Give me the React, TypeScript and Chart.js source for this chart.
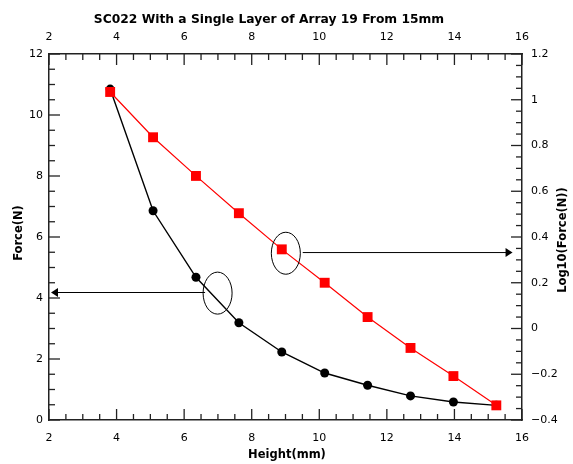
import React, { useEffect, useRef } from 'react';
import { Chart, registerables } from 'chart.js';

Chart.register(...registerables);

const chartTitle = 'SC022 With a Single Layer of Array 19 From 15mm';
const xTitle = 'Height(mm)';
const yTitle = 'Force(N)';
const y2Title = 'Log10(Force(N))';

const heights = [3.81, 5.08, 6.35, 7.62, 8.89, 10.16, 11.43, 12.7, 13.97, 15.24];
const forceN = [10.85, 6.86, 4.68, 3.19, 2.23, 1.54, 1.14, 0.79, 0.59, 0.48];
const logForce = [1.034, 0.836, 0.667, 0.504, 0.346, 0.2, 0.05, -0.085, -0.208, -0.336];

const xRange = [2, 16];
const yRange = [0, 12];
const y2Range = [-0.4, 1.2];
const xStep = 2;
const yStep = 2;
const y2Step = 0.2;

// annotation anchors (data coordinates)
const leftEllipse = { x: 6.99, y: 4.16 };
const leftArrow = { from: 6.62, to: 2.06, y: 4.18 };
const rightEllipse = { x: 9.01, y2: 0.329 };
const rightArrow = { from: 9.51, to: 15.72, y2: 0.332 };

const FONT = '"DejaVu Sans", Verdana, sans-serif';

const fmt = (v: number) => {
  const n = Math.round(v * 100) / 100;
  return n < 0 ? '\u2212' + Math.abs(n) : String(n);
};

const decorPlugin = {
  id: 'decor',
  afterDraw(chart: any) {
    const ctx = chart.ctx;
    const { x, x2, y, y2 } = chart.scales;
    const area = chart.chartArea;
    ctx.save();
    // inward ticks
    ctx.strokeStyle = '#222';
    ctx.lineWidth = 1.3;
    const drawTicks = (scale: any, min: number, max: number, step: number, side: string) => {
      const minor = step / 4;
      const n = Math.round((max - min) / minor);
      for (let i = 0; i <= n; i++) {
        const v = min + i * minor;
        const len = i % 4 === 0 ? 11 : 6;
        const p = scale.getPixelForValue(v);
        ctx.beginPath();
        if (side === 'bottom') { ctx.moveTo(p, area.bottom); ctx.lineTo(p, area.bottom - len); }
        if (side === 'top') { ctx.moveTo(p, area.top); ctx.lineTo(p, area.top + len); }
        if (side === 'left') { ctx.moveTo(area.left, p); ctx.lineTo(area.left + len, p); }
        if (side === 'right') { ctx.moveTo(area.right, p); ctx.lineTo(area.right - len, p); }
        ctx.stroke();
      }
    };
    drawTicks(x, xRange[0], xRange[1], xStep, 'bottom');
    drawTicks(x2, xRange[0], xRange[1], xStep, 'top');
    drawTicks(y, yRange[0], yRange[1], yStep, 'left');
    drawTicks(y2, y2Range[0], y2Range[1], y2Step, 'right');

    // ellipses and arrows
    ctx.strokeStyle = '#000';
    ctx.fillStyle = '#000';
    ctx.lineWidth = 1;
    const ellipse = (cx: number, cy: number) => {
      ctx.beginPath();
      ctx.ellipse(cx, cy, 14.5, 21, 0, 0, Math.PI * 2);
      ctx.stroke();
    };
    const arrow = (x0: number, x1: number, yy: number) => {
      const dir = Math.sign(x1 - x0);
      ctx.beginPath();
      ctx.moveTo(x0, yy);
      ctx.lineTo(x1 - dir * 5, yy);
      ctx.stroke();
      ctx.beginPath();
      ctx.moveTo(x1, yy);
      ctx.lineTo(x1 - dir * 7, yy - 4.5);
      ctx.lineTo(x1 - dir * 7, yy + 4.5);
      ctx.closePath();
      ctx.fill();
    };
    ellipse(x.getPixelForValue(leftEllipse.x), y.getPixelForValue(leftEllipse.y));
    arrow(x.getPixelForValue(leftArrow.from), x.getPixelForValue(leftArrow.to), y.getPixelForValue(leftArrow.y));
    ellipse(x.getPixelForValue(rightEllipse.x), y2.getPixelForValue(rightEllipse.y2));
    arrow(x.getPixelForValue(rightArrow.from), x.getPixelForValue(rightArrow.to), y2.getPixelForValue(rightArrow.y2));

    // titles
    ctx.fillStyle = '#000';
    ctx.textAlign = 'center';
    ctx.textBaseline = 'alphabetic';
    ctx.font = 'bold 12.3px ' + FONT;
    ctx.fillText(chartTitle, 269, 23);
    ctx.font = 'bold 11.5px ' + FONT;
    ctx.fillText(xTitle, 287, 458);
    ctx.textBaseline = 'middle';
    ctx.save();
    ctx.translate(19, 233);
    ctx.rotate(-Math.PI / 2);
    ctx.fillText(yTitle, 0, 0);
    ctx.restore();
    ctx.save();
    ctx.translate(563, 240);
    ctx.rotate(-Math.PI / 2);
    ctx.fillText(y2Title, 0, 0);
    ctx.restore();
    ctx.restore();
  },
};

export default function App() {
  const ref = useRef<HTMLCanvasElement>(null);
  useEffect(() => {
    if (!ref.current) return;
    const tickFont = { family: FONT, size: 11 };
    const border = { display: true, color: '#222', width: 1.5 };
    const grid = { display: false, drawTicks: false };
    const chart = new Chart(ref.current, {
      type: 'line',
      data: {
        datasets: [
          {
            label: 'Log10(Force)',
            data: heights.map((h, i) => ({ x: h, y: logForce[i] })),
            yAxisID: 'y2',
            xAxisID: 'x',
            borderColor: '#ff0000',
            backgroundColor: '#ff0000',
            borderWidth: 1.2,
            pointStyle: 'rect',
            pointRadius: 7,
            pointBorderWidth: 0,
            order: 0,
            clip: false,
          },
          {
            label: 'Force',
            data: heights.map((h, i) => ({ x: h, y: forceN[i] })),
            yAxisID: 'y',
            xAxisID: 'x',
            borderColor: '#000',
            backgroundColor: '#000',
            borderWidth: 1.4,
            pointStyle: 'circle',
            pointRadius: 4.5,
            pointBorderWidth: 0,
            order: 1,
            clip: false,
          },
        ],
      },
      options: {
        animation: false,
        responsive: false,
        maintainAspectRatio: false,
        layout: { padding: 0 },
        plugins: { legend: { display: false }, tooltip: { enabled: false }, title: { display: false } },
        scales: {
          x: {
            type: 'linear', position: 'bottom', min: xRange[0], max: xRange[1],
            ticks: { stepSize: xStep, font: tickFont, color: '#000', padding: 12 },
            grid, border,
            afterFit: (s: any) => { s.height = 44; },
          },
          x2: {
            type: 'linear', position: 'top', min: xRange[0], max: xRange[1],
            ticks: { stepSize: xStep, font: tickFont, color: '#000', padding: 10 },
            grid, border,
            afterFit: (s: any) => { s.height = 54; },
          },
          y: {
            type: 'linear', position: 'left', min: yRange[0], max: yRange[1],
            ticks: { stepSize: yStep, font: tickFont, color: '#000', padding: 6 },
            grid, border,
            afterFit: (s: any) => { s.width = 49; },
          },
          y2: {
            type: 'linear', position: 'right', min: y2Range[0], max: y2Range[1],
            ticks: { stepSize: y2Step, font: tickFont, color: '#000', padding: 9, callback: (v: any) => fmt(Number(v)) },
            grid, border,
            afterFit: (s: any) => { s.width = 51; },
          },
        },
      },
      plugins: [decorPlugin],
    } as any);
    return () => chart.destroy();
  }, []);
  return (
    <div style={{ position: 'absolute', left: 0, top: 0, width: 573, height: 464, background: '#fff' }}>
      <canvas ref={ref} width={573} height={464} style={{ display: 'block', width: 573, height: 464 }} />
    </div>
  );
}
